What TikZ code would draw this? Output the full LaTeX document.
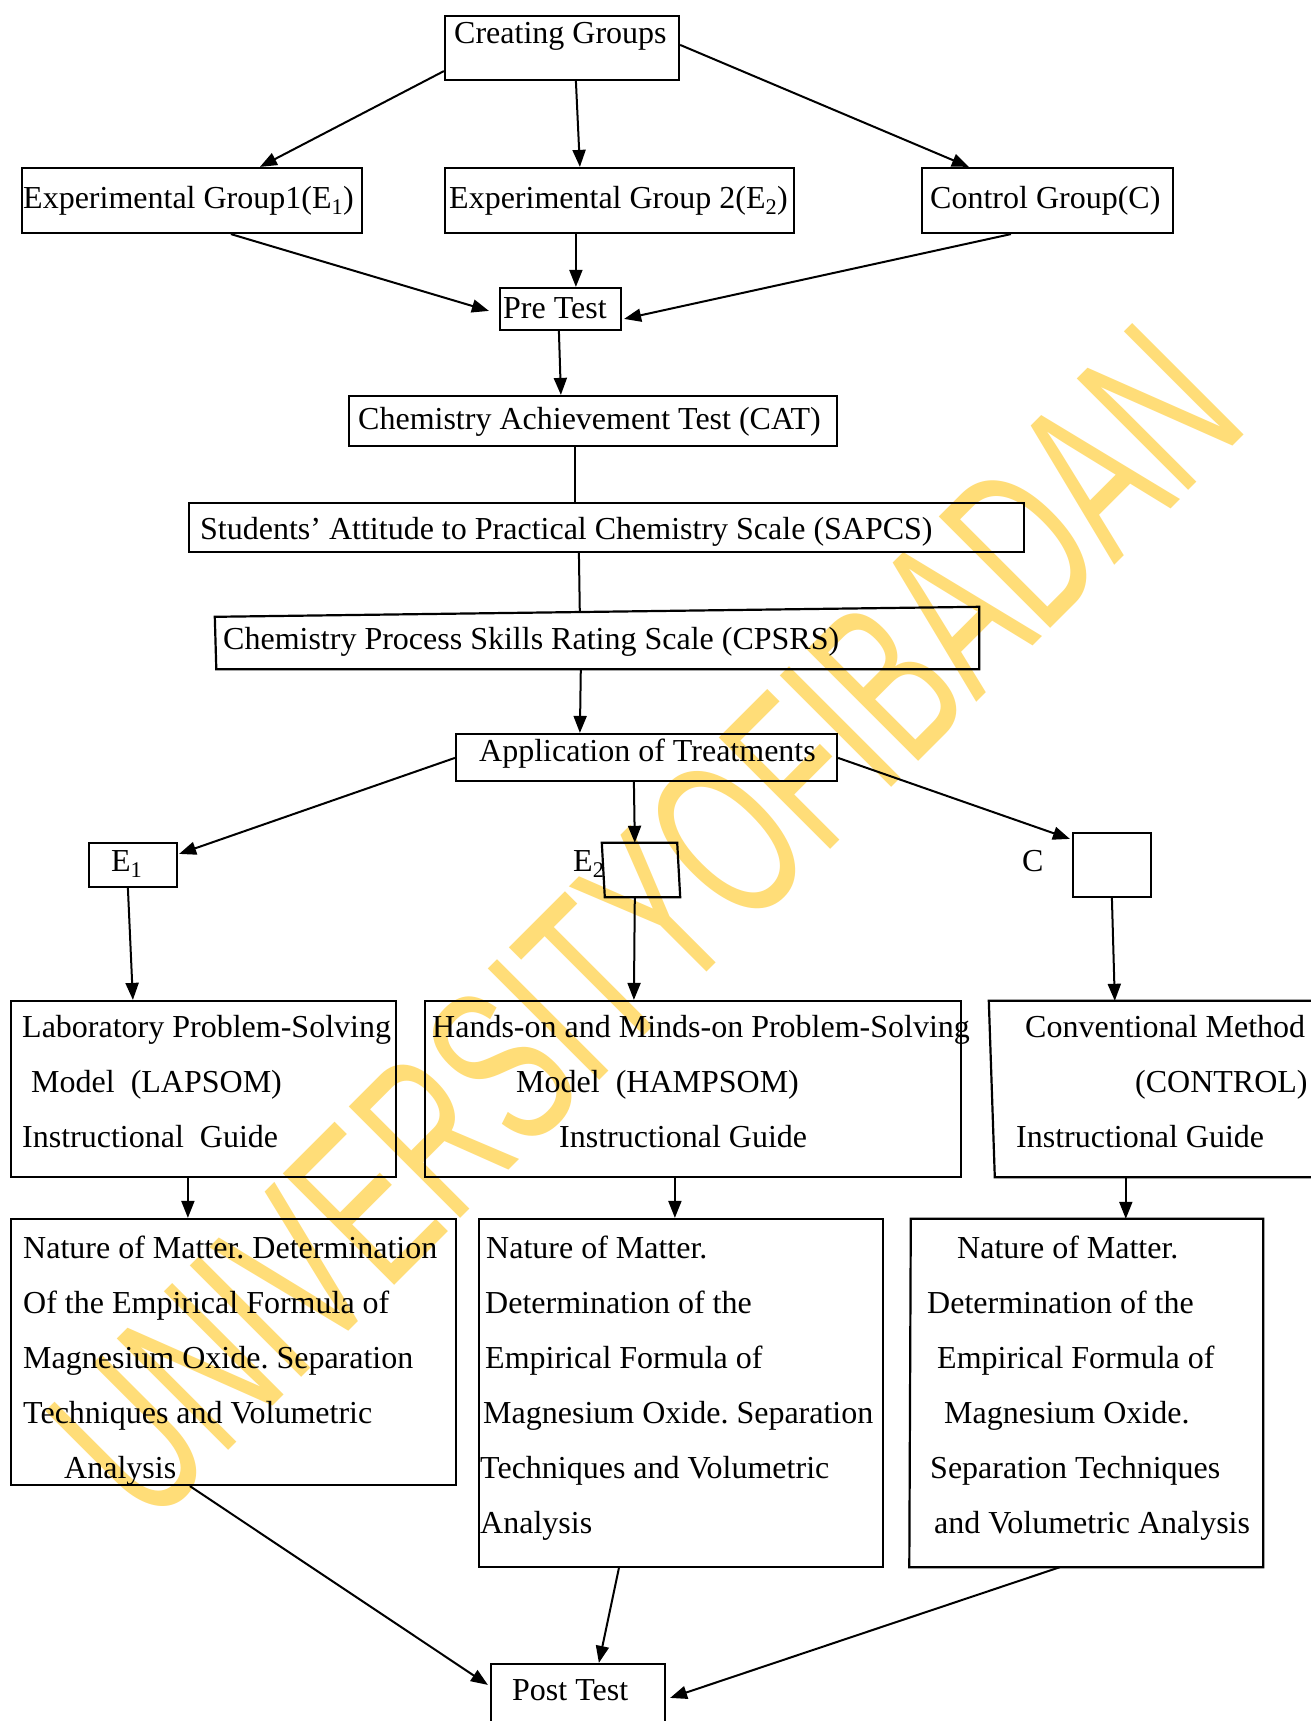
\documentclass[tikz,border=0pt]{standalone}
\usepackage{fontspec}
\setmainfont{Liberation Serif}
\newfontfamily\wmfamily{Liberation Sans}
\usetikzlibrary{arrows.meta,fit}
\definecolor{wmyellow}{RGB}{255,221,120}
\frenchspacing
\tikzset{
  box/.style={draw, line width=2.2pt, inner sep=0pt},
  ghost/.style={draw=none, inner sep=0pt},
  txt/.style={anchor=base west, inner sep=0pt, font=\fontsize{32}{38}\selectfont},
  arr/.style={line width=2pt, -{Triangle[length=17pt,width=13pt]}},
  ln/.style={line width=2pt},
  edge/.style={line width=2.2pt}
}
\begin{document}
\begin{tikzpicture}[x=1pt,y=-1pt]
\useasboundingbox (0,0) rectangle (1311,1721);
\clip (0,0) rectangle (1311,1721);
\fill[white] (0,0) rectangle (1311,1721);

% watermark
\node[rotate=45, text=wmyellow, inner sep=0pt, font=\wmfamily\fontsize{229}{229}\selectfont] (wm) at (645,923) {\scalebox{0.613}[1]{UNIVERSITYOFIBADAN}};

% boxes
\node[box, fit={(445,16) (679,80)}] (cg) {};
\node[box, fit={(22,168) (362,233)}] (e1) {};
\node[box, fit={(445,168) (794,233)}] (e2) {};
\node[box, fit={(922,168) (1173,233)}] (cc) {};
\node[box, fit={(500,288) (621,330)}] (pre) {};
\node[box, fit={(349,396) (837,446)}] (cat) {};
\node[box, fit={(189,503) (1024,552)}] (sap) {};
\node[ghost, fit={(215,607) (979,669)}] (cps) {};
\draw[edge] ([yshift=-10]cps.north west) -- (cps.north east) -- (cps.south east) -- ([xshift=1.5]cps.south west) -- cycle;
\node[box, fit={(456,734) (837,781)}] (app) {};
\node[box, fit={(89,843) (177,887)}] (b1) {};
\node[ghost, fit={(602,843) (677,897)}] (b2) {};
\draw[edge] (b2.north west) -- (b2.north east) -- ([xshift=3]b2.south east) -- ([xshift=3]b2.south west) -- cycle;
\node[box, fit={(1073,833) (1151,897)}] (b3) {};
\node[box, fit={(11,1001) (396,1177)}] (lap) {};
\node[box, fit={(425,1001) (961,1177)}] (ham) {};
\node[ghost, fit={(989,1001) (1330,1177)}] (con) {};
\draw[edge] (con.north east) -- (con.north west) -- ([xshift=6]con.south west) -- (con.south east);
\node[box, fit={(11,1219) (456,1485)}] (na) {};
\node[box, fit={(479,1219) (883,1567)}] (nb) {};
\node[ghost, fit={(911,1219) (1263,1567)}] (nc) {};
\draw[edge] (nc.north west) -- (nc.north east) -- (nc.south east) -- ([xshift=-1.5]nc.south west) -- cycle;
\node[box, fit={(491,1664) (665,1740)}] (post) {};

% texts
\node[txt] (cgT) at (454,43) {Creating Groups};
\node[txt] (e1T) at (23,208) {Experimental Group1(E\textsubscript{1})};
\node[txt] (e2T) at (449,208) {Experimental Group 2(E\textsubscript{2})};
\node[txt] (ccT) at (930,208) {Control Group(C)};
\node[txt] (preT) at (503,318) {Pre Test};
\node[txt] (catT) at (358,429) {Chemistry Achievement Test (CAT)};
\node[txt] (sapT) at (200,539) {Students’ Attitude to Practical Chemistry Scale (SAPCS)};
\node[txt] (cpsT) at (223,649) {Chemistry Process Skills Rating Scale (CPSRS)};
\node[txt] (appT) at (479,761) {Application of Treatments};
\node[txt] (b1T) at (111,871) {E\textsubscript{1}};
\node[txt] (b2T) at (573,871) {E\textsubscript{2}};
\node[txt] (b3T) at (1022,871) {C};

\node[txt] (lap1) at (22,1037) {Laboratory Problem-Solving};
\node[txt] (lap2) at (31,1092) {Model\ \ (LAPSOM)};
\node[txt] (lap3) at (22,1147) {Instructional\ \ Guide};
\node[txt] (ham1) at (432,1037) {Hands-on and Minds-on Problem-Solving};
\node[txt] (ham2) at (516,1092) {Model\ \ (HAMPSOM)};
\node[txt] (ham3) at (559,1147) {Instructional Guide};
\node[txt] (con1) at (1025,1037) {Conventional Method};
\node[txt] (con2) at (1135,1092) {(CONTROL)};
\node[txt] (con3) at (1016,1147) {Instructional Guide};

\node[txt] (na1) at (23,1258) {Nature of Matter. Determination};
\node[txt] (na2) at (23,1313) {Of the Empirical Formula of};
\node[txt] (na3) at (23,1368) {Magnesium Oxide. Separation};
\node[txt] (na4) at (23,1423) {Techniques and Volumetric};
\node[txt] (na5) at (64,1478) {Analysis};

\node[txt] (nb1) at (486,1258) {Nature of Matter.};
\node[txt] (nb2) at (485,1313) {Determination of the};
\node[txt] (nb3) at (485,1368) {Empirical Formula of};
\node[txt] (nb4) at (483,1423) {Magnesium Oxide. Separation};
\node[txt] (nb5) at (480,1478) {Techniques and Volumetric};
\node[txt] (nb6) at (480,1533) {Analysis};

\node[txt] (nc1) at (957,1258) {Nature of Matter.};
\node[txt] (nc2) at (927,1313) {Determination of the};
\node[txt] (nc3) at (937,1368) {Empirical Formula of};
\node[txt] (nc4) at (944,1423) {Magnesium Oxide.};
\node[txt] (nc5) at (930,1478) {Separation Techniques};
\node[txt] (nc6) at (934,1533) {and Volumetric Analysis};

\node[txt] (postT) at (512,1700) {Post Test};

% connectors
\draw[arr] ([yshift=10]cg.south west) -- ([xshift=239]e1.north west);
\draw[arr] ([xshift=132]cg.south west) -- ([xshift=136]e2.north west);
\draw[arr] ([yshift=-30]cg.north east) -- ([xshift=48]cc.north west);
\draw[arr] ([xshift=210]e1.south west) -- ([xshift=-10,yshift=-24]pre.north west);
\draw[arr] ([xshift=132]e2.south west) -- ([xshift=77]pre.north west);
\draw[arr] ([xshift=90]cc.south west) -- ([xshift=2,yshift=-32]pre.north east);
\draw[arr] ([xshift=60]pre.south west) -- ([xshift=213]cat.north west);
\draw[ln] ([xshift=227]cat.south west) -- ([xshift=387]sap.north west);
\draw[ln] ([xshift=391]sap.south west) -- ([xshift=365,yshift=-5]cps.north west);
\draw[arr] ([xshift=366]cps.south west) -- ([xshift=125]app.north west);
\draw[arr] ([yshift=-25]app.north west) -- ([xshift=1,yshift=-12]b1.north east);
\draw[arr] ([xshift=179]app.south west) -- ([xshift=33]b2.north west);
\draw[arr] ([yshift=-25]app.north east) -- ([xshift=-2,yshift=-7]b3.north west);
\draw[arr] ([xshift=40]b1.south west) -- ([xshift=123]lap.north west);
\draw[arr] ([xshift=33]b2.south west) -- ([xshift=210]ham.north west);
\draw[arr] ([xshift=40]b3.south west) -- ([xshift=126]con.north west);
\draw[arr] ([xshift=178]lap.south west) -- ([xshift=178]na.north west);
\draw[arr] ([xshift=251]ham.south west) -- ([xshift=197]nb.north west);
\draw[arr] ([xshift=137]con.south west) -- ([xshift=215]nc.north west);
\draw[arr] ([xshift=180]na.south west) -- ([xshift=-2,yshift=-22]post.north west);
\draw[arr] ([xshift=141]nb.south west) -- ([xshift=109]post.north west);
\draw[arr] ([xshift=149]nc.south west) -- ([xshift=4,yshift=-35]post.north east);
\end{tikzpicture}
\end{document}
